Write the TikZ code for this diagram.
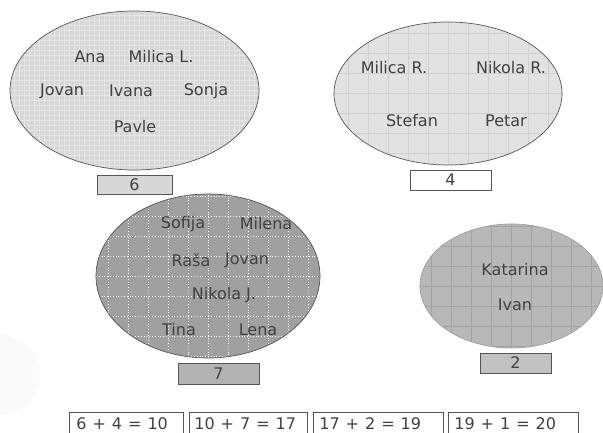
\documentclass[tikz,border=0pt]{standalone}
\usepackage{fontspec}
\setmainfont{DejaVu Sans}
\usetikzlibrary{shapes.geometric}
\definecolor{txt}{HTML}{404040}
\definecolor{edge}{HTML}{555555}
\definecolor{fillA}{HTML}{D7D7D7}
\definecolor{gridA}{HTML}{E6E6E6}
\definecolor{fillB}{HTML}{E2E2E2}
\definecolor{gridB}{HTML}{CFCFCF}
\definecolor{fillC}{HTML}{A0A0A0}
\definecolor{gridC}{HTML}{808080}
\definecolor{fillD}{HTML}{B8B8B8}
\definecolor{gridD}{HTML}{A2A2A2}
\newcommand\mygap{\hspace{6pt}}
\tikzset{
  label/.style={font=\fontsize{16}{19}\selectfont, text=txt, inner sep=0pt},
  blob/.style={ellipse, inner sep=0pt, line width=0.7pt},
  gridfill/.style 2 args={path picture={
      \draw[#1, line width=0.6pt, step=#2]
        (path picture bounding box.south west) grid (path picture bounding box.north east);}},
  countbox/.style={rectangle, draw=edge, line width=0.7pt, inner sep=0pt,
      font=\fontsize{16}{19}\selectfont, text=txt},
  sumbox/.style={rectangle, draw=edge, line width=0.7pt, anchor=north west,
      minimum height=23pt, inner xsep=7pt, inner ysep=0pt, align=left,
      font=\fontsize{16}{19}\selectfont, text=txt}
}
\begin{document}
\begin{tikzpicture}[x=1pt,y=-1pt]
\useasboundingbox (0,0) rectangle (603,433);
\clip (0,0) rectangle (603,433);
% faint circle
\fill[gray!4] (0,375) circle (40);
% ellipse 1
\node[blob, draw=edge, fill=fillA, gridfill={gridA}{5pt},
      minimum width=249pt, minimum height=159pt] (e1) at (134.5,90.5) {};
\node[label] (ana) at (90,57) {Ana};
\node[label] (milical) at (161,57) {Milica L.};
\node[label] (jovan1) at (62,91) {Jovan};
\node[label] (ivana) at (131,91) {Ivana};
\node[label] (sonja) at (206,91) {Sonja};
\node[label] (pavle) at (135,127) {Pavle};
\node[countbox, fill=fillA, minimum width=75pt, minimum height=19pt] (c6) at (134.5,184.5) {6};
% ellipse 2
\node[blob, draw=edge, fill=fillB, gridfill={gridB}{20pt},
      minimum width=228pt, minimum height=143pt] (e2) at (448,93.5) {};
\node[label] (milicar) at (394,68) {Milica R.};
\node[label] (nikolar) at (511,68) {Nikola R.};
\node[label] (stefan) at (412,121) {Stefan};
\node[label] (petar) at (506,121) {Petar};
\node[countbox, fill=white, minimum width=81pt, minimum height=20pt] (c4) at (450.5,180) {4};
% ellipse 3
\node[blob, draw=edge, fill=fillC, gridfill={gridC}{20pt},
      path picture={\draw[white, dotted, line width=0.8pt, shift={(10pt,10pt)}, step=20pt]
        (path picture bounding box.south west) grid (path picture bounding box.north east);},
      minimum width=224pt, minimum height=164pt] (e3) at (208,276) {};
\node[label] (sofija) at (183,224) {Sofija};
\node[label] (milena) at (266,224) {Milena};
\node[label] (rasa) at (191,260) {Raša};
\node[label] (jovan2) at (247,260) {Jovan};
\node[label] (nikolaj) at (224,295) {Nikola J.};
\node[label] (tina) at (179,330) {Tina};
\node[label] (lena) at (258,330) {Lena};
\node[countbox, fill=fillC!80!white, minimum width=81pt, minimum height=21pt] (c7) at (218.5,373.5) {7};
% ellipse 4
\node[blob, draw=gray!75, fill=fillD, gridfill={gridD}{20pt},
      minimum width=183pt, minimum height=124pt] (e4) at (511.5,286) {};
\node[label] (katarina) at (515,270) {Katarina};
\node[label] (ivan) at (515,305) {Ivan};
\node[countbox, fill=fillA!90!black, minimum width=71pt, minimum height=20pt] (c2) at (515.5,363) {2};
% sums
\node[sumbox, minimum width=114pt, text width=100pt, inner xsep=7pt] (s1) at (69,412) {6\mygap+\mygap4\mygap=\mygap10};
\node[sumbox, minimum width=118pt, text width=108pt, inner xsep=5pt] (s2) at (189,412) {10\mygap+\mygap7\mygap=\mygap17};
\node[sumbox, minimum width=130pt, text width=118pt, inner xsep=6pt] (s3) at (313,412) {17\mygap+\mygap2\mygap=\mygap19};
\node[sumbox, minimum width=130pt, text width=118pt, inner xsep=6pt] (s4) at (448,412) {19\mygap+\mygap1\mygap=\mygap20};
\end{tikzpicture}
\end{document}
